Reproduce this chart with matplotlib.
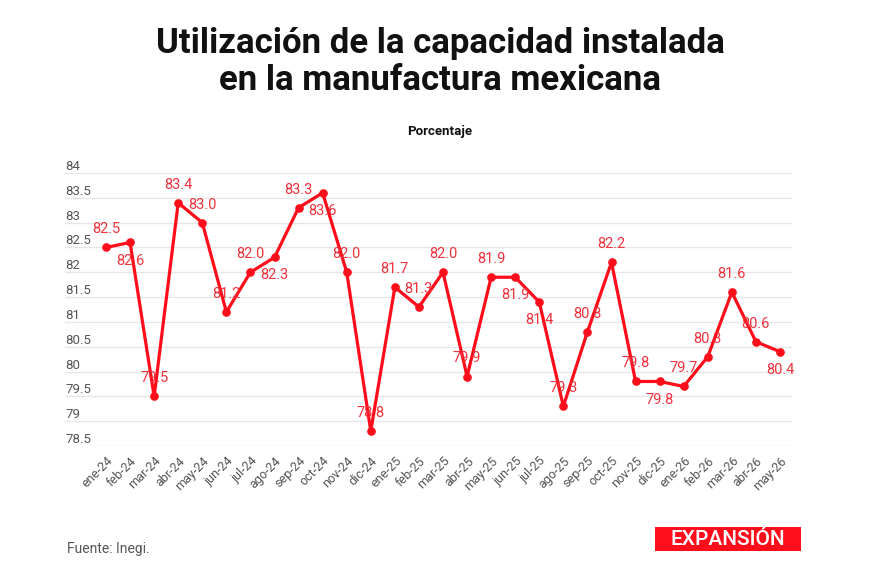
import matplotlib
matplotlib.use("Agg")
import matplotlib.pyplot as plt
from matplotlib.patches import Rectangle
import numpy as np

months = ["ene-24", "feb-24", "mar-24", "abr-24", "may-24", "jun-24", "jul-24", "ago-24",
          "sep-24", "oct-24", "nov-24", "dic-24", "ene-25", "feb-25", "mar-25", "abr-25",
          "may-25", "jun-25", "jul-25", "ago-25", "sep-25", "oct-25", "nov-25", "dic-25",
          "ene-26", "feb-26", "mar-26", "abr-26", "may-26"]
values = [82.5, 82.6, 79.5, 83.4, 83.0, 81.2, 82.0, 82.3, 83.3, 83.6, 82.0, 78.8,
          81.7, 81.3, 82.0, 79.9, 81.9, 81.9, 81.4, 79.3, 80.8, 82.2, 79.8, 79.8,
          79.7, 80.3, 81.6, 80.6, 80.4]
y_ticks = [78.5, 79, 79.5, 80, 80.5, 81, 81.5, 82, 82.5, 83, 83.5, 84]
y_tick_labels = ["78.5", "79", "79.5", "80", "80.5", "81", "81.5", "82", "82.5", "83", "83.5", "84"]
# label placement: 1 = above point, -1 = below point
label_side = [1, -1, 1, 1, 1, 1, 1, -1, 1, -1, 1, 1,
              1, 1, 1, 1, 1, -1, -1, 1, 1, 1, 1, -1,
              1, 1, 1, 1, -1]

title = "Utilización de la capacidad instalada\nen la manufactura mexicana"
subtitle = "Porcentaje"
source = "Fuente: Inegi."

plt.rcParams['font.family'] = ['Roboto', 'DejaVu Sans']

W, H = 870, 580
fig = plt.figure(figsize=(W / 100, H / 100), dpi=100)
fig.patch.set_facecolor("white")

left, right, top, bottom = 65, 792, 173, 446
ax = fig.add_axes([left / W, 1 - bottom / H, (right - left) / W, (bottom - top) / H])

x = np.arange(len(values))
line_color = "#ff0d1a"
label_color = "#f0323c"
ax.plot(x, values, color=line_color, lw=2.3, marker="o", markersize=5.2,
        markerfacecolor=line_color, markeredgecolor=line_color, zorder=3, clip_on=False)

for xi, v, s in zip(x, values, label_side):
    ax.annotate(f"{v:.1f}", (xi, v), xytext=(0, 13 * s), textcoords="offset points",
                ha="center", va="center", fontsize=10.5, color=label_color, zorder=4)

step = 24.07
ax.set_xlim(-(106 - left) / step, (len(values) - 1) + (right - 780) / step)
ax.set_ylim(78.5, 84)

ax.set_yticks(y_ticks)
ax.set_yticklabels(y_tick_labels)
ax.set_xticks(x)
ax.set_xticklabels(months)

for sp in ax.spines.values():
    sp.set_visible(False)
ax.grid(axis="y", color="#e6e6e6", lw=1)
ax.set_axisbelow(True)
ax.tick_params(axis="y", length=0, pad=0, labelsize=9.5, labelcolor="#555555")
for lab in ax.get_yticklabels():
    lab.set_horizontalalignment("left")
    lab.set_verticalalignment("bottom")
ax.tick_params(axis="x", length=0, pad=6, labelsize=9, labelcolor="#555555")
for lab in ax.get_xticklabels():
    lab.set_rotation(45)
    lab.set_horizontalalignment("right")
    lab.set_rotation_mode("anchor")

fig.text(440 / W, 1 - 62 / H, title, ha="center", va="center", fontsize=25,
         fontweight="bold", color="#111111", linespacing=1.15)
fig.text(440 / W, 1 - 131 / H, subtitle, ha="center", va="center", fontsize=9.5,
         fontweight="bold", color="#111111")
fig.text(67 / W, 1 - 549 / H, source, ha="left", va="center", fontsize=10,
         color="#555555")

fig.patches.append(Rectangle((655 / W, 1 - 551 / H), 146 / W, 24 / H,
                             transform=fig.transFigure, facecolor="#ff0d1a",
                             edgecolor="none"))
fig.text(728 / W, 1 - 539.5 / H, "EXPANSIÓN", ha="center", va="center", fontsize=15,
         fontweight="medium", color="white")

fig.savefig("out.png", dpi=100, facecolor="white")
